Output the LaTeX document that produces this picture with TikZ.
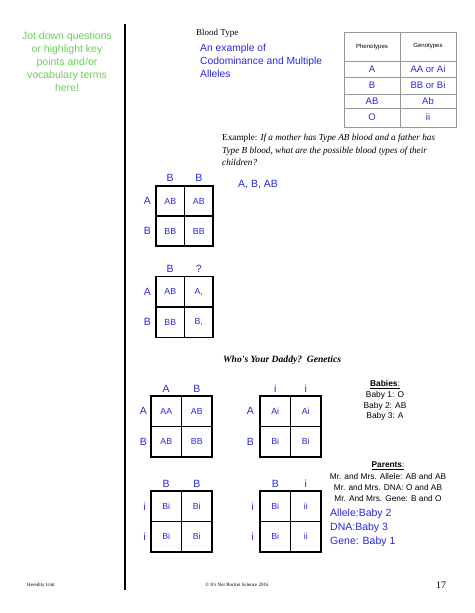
\documentclass[tikz,border=0pt]{standalone}
\usepackage{fontspec}
\setmainfont{Liberation Sans}
\newfontfamily\serif{Liberation Serif}
\usepackage{xcolor}
\usepackage{tikz}
\usetikzlibrary{positioning}
\definecolor{notegreen}{RGB}{110,205,90}
\definecolor{inkblue}{RGB}{40,40,220}
\definecolor{tablegray}{RGB}{150,150,150}

\tikzset{
  cell/.style={draw, line width=1.1pt, minimum width=30.5pt, minimum height=30.5pt,
               inner sep=0pt, outer sep=0pt, text=inkblue, font=\fontsize{8.8}{10}\selectfont},
  allele/.style={text=inkblue, font=\fontsize{10.5}{12}\selectfont, inner sep=0pt},
  tcell/.style={draw=tablegray, line width=0.6pt, minimum width=56pt, inner sep=0pt,
                outer sep=0pt, text=inkblue, font=\fontsize{9.5}{11}\selectfont},
  note/.style={font=\fontsize{8.4}{10.8}\selectfont, align=center, inner sep=0pt},
}

\begin{document}
\begin{tikzpicture}[x=1pt, y=-1pt]
  \useasboundingbox (0,0) rectangle (474,613);

  % margin note and rule
  \node[text=notegreen, font=\fontsize{10.5}{13}\selectfont, align=center, inner sep=0pt]
    (jot) at (67,61.5) {Jot down questions\\or highlight key\\points and/or\\vocabulary terms\\here!};
  \coordinate (bartop) at (125,24);
  \coordinate (barbot) at (125,590);
  \draw[line width=2pt] (bartop) -- (barbot);

  % heading
  \node[font=\serif\fontsize{9}{11}\selectfont, anchor=west, inner sep=0pt] (title) at (196,33) {Blood Type};
  \node[text=inkblue, font=\fontsize{10.3}{13}\selectfont, align=left, anchor=west, inner sep=0pt]
    (subtitle) at (200,61) {An example of\\Codominance and Multiple\\Alleles};

  % phenotype table
  \node[tcell, minimum height=29pt, text=black, font=\fontsize{6}{7}\selectfont] (pheno) at (372,46.5) {Phenotypes};
  \node[tcell, minimum height=29pt, text=black, font=\fontsize{6}{7}\selectfont, right=0pt of pheno] (geno) {Genotypes};
  \node[tcell, minimum height=16pt, below=0pt of pheno] (pa) {A};
  \node[tcell, minimum height=16pt, below=0pt of geno] (ga) {AA or Ai};
  \node[tcell, minimum height=17pt, below=0pt of pa] (pb) {B};
  \node[tcell, minimum height=17pt, below=0pt of ga] (gb) {BB or Bi};
  \node[tcell, minimum height=14pt, below=0pt of pb] (pab) {AB};
  \node[tcell, minimum height=14pt, below=0pt of gb] (gab) {Ab};
  \node[tcell, minimum height=19pt, below=0pt of pab] (po) {O};
  \node[tcell, minimum height=19pt, below=0pt of gab] (go) {ii};

  % example question
  \node[font=\serif\fontsize{9.2}{12.5}\selectfont, align=left, anchor=north west, inner sep=0pt]
    (example) at (222,134) {Example: \textit{If a mother has Type AB blood and a father has}\\
    \textit{Type B blood, what are the possible blood types of their}\\\textit{children?}};
  \node[allele, anchor=west] (answer) at (238,185) {A, B, AB};

  % square 1
  \node[cell, minimum width=28.5pt, minimum height=30pt] (p1a) at (170.25,201) {AB};
  \node[cell, minimum width=28.5pt, minimum height=30pt, right=0pt of p1a] (p1b) {AB};
  \node[cell, minimum width=28.5pt, minimum height=30pt, below=0pt of p1a] (p1c) {BB};
  \node[cell, minimum width=28.5pt, minimum height=30pt, below=0pt of p1b] (p1d) {BB};
  \node[allele, above=4pt of p1a] (p1h1) {B};
  \node[allele, above=4pt of p1b] (p1h2) {B};
  \node[allele, left=5pt of p1a] (p1r1) {A};
  \node[allele, left=5pt of p1c] (p1r2) {B};

  % square 2
  \node[cell, minimum width=28.5pt, minimum height=30.5pt] (p2a) at (170.25,291.75) {AB};
  \node[cell, minimum width=28.5pt, minimum height=30.5pt, right=0pt of p2a] (p2b) {A,};
  \node[cell, minimum width=28.5pt, minimum height=30.5pt, below=0pt of p2a] (p2c) {BB};
  \node[cell, minimum width=28.5pt, minimum height=30.5pt, below=0pt of p2b] (p2d) {B,};
  \node[allele, above=4pt of p2a] (p2h1) {B};
  \node[allele, above=4pt of p2b] (p2h2) {?};
  \node[allele, left=5pt of p2a] (p2r1) {A};
  \node[allele, left=5pt of p2c] (p2r2) {B};

  \node[font=\serif\bfseries\itshape\fontsize{9.6}{11}\selectfont, anchor=west, inner sep=0pt]
    (daddy) at (223,360) {Who's Your Daddy?\ \ Genetics};

  % square 3
  \node[cell] (p3a) at (166.25,411.25) {AA};
  \node[cell, right=0pt of p3a] (p3b) {AB};
  \node[cell, below=0pt of p3a] (p3c) {AB};
  \node[cell, below=0pt of p3b] (p3d) {BB};
  \node[allele, above=3pt of p3a] (p3h1) {A};
  \node[allele, above=3pt of p3b] (p3h2) {B};
  \node[allele, left=4pt of p3a] (p3r1) {A};
  \node[allele, left=4pt of p3c] (p3r2) {B};

  % square 4
  \node[cell] (p4a) at (275.25,411.25) {Ai};
  \node[cell, right=0pt of p4a] (p4b) {Ai};
  \node[cell, below=0pt of p4a] (p4c) {Bi};
  \node[cell, below=0pt of p4b] (p4d) {Bi};
  \node[allele, above=3pt of p4a] (p4h1) {i};
  \node[allele, above=3pt of p4b] (p4h2) {i};
  \node[allele, left=6pt of p4a] (p4r1) {A};
  \node[allele, left=6pt of p4c] (p4r2) {B};

  \node[note] (babies) at (385,400.5) {\underline{\textbf{Babies}:}\\Baby 1: O\\Baby 2: AB\\Baby 3: A};

  % square 5
  \node[cell] (p5a) at (166.25,506.25) {Bi};
  \node[cell, right=0pt of p5a] (p5b) {Bi};
  \node[cell, below=0pt of p5a] (p5c) {Bi};
  \node[cell, below=0pt of p5b] (p5d) {Bi};
  \node[allele, above=3pt of p5a] (p5h1) {B};
  \node[allele, above=3pt of p5b] (p5h2) {B};
  \node[allele, left=5pt of p5a] (p5r1) {i};
  \node[allele, left=5pt of p5c] (p5r2) {i};

  % square 6
  \node[cell] (p6a) at (275.25,506.25) {Bi};
  \node[cell, right=0pt of p6a] (p6b) {ii};
  \node[cell, below=0pt of p6a] (p6c) {Bi};
  \node[cell, below=0pt of p6b] (p6d) {ii};
  \node[allele, above=3pt of p6a] (p6h1) {B};
  \node[allele, above=3pt of p6b] (p6h2) {i};
  \node[allele, left=6pt of p6a] (p6r1) {i};
  \node[allele, left=6pt of p6c] (p6r2) {i};

  \node[note, font=\fontsize{8.3}{11.3}\selectfont] (parents) at (388,482) {\underline{\textbf{Parents}:}\\
    Mr. and Mrs. Allele: AB and AB\\Mr. and Mrs. DNA: O and AB\\Mr. And Mrs. Gene: B and O};
  \node[allele, font=\fontsize{10.5}{14}\selectfont, align=left, anchor=west] (solved) at (330,528)
    {Allele:Baby 2\\DNA:Baby 3\\Gene: Baby 1};

  % footer
  \node[font=\serif\fontsize{5}{6}\selectfont, anchor=west, inner sep=0pt] (unit) at (27,585) {Heredity Unit};
  \node[font=\serif\fontsize{5}{6}\selectfont, inner sep=0pt] (copy) at (237,585) {\textcopyright{} It's Not Rocket Science 2016};
  \node[font=\serif\fontsize{10}{12}\selectfont, inner sep=0pt] (page) at (441,585) {17};
\end{tikzpicture}
\end{document}
